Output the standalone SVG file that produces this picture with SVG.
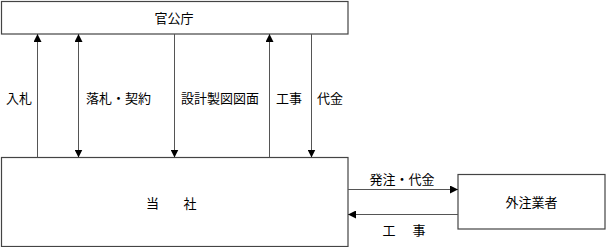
<svg xmlns="http://www.w3.org/2000/svg" width="606" height="247" viewBox="0 0 606 247">
<style>
.box{fill:#fff;stroke:#444;stroke-width:1.2}
.ln{stroke:#555;stroke-width:1;fill:none}
text{font-family:"Noto Sans CJK JP","Noto Sans",sans-serif;font-size:13px;fill:#000;dominant-baseline:central;text-anchor:middle}
</style>
<defs>
<marker id="ah" viewBox="0 0 8 8" refX="8" refY="4" markerWidth="8" markerHeight="8" markerUnits="userSpaceOnUse" orient="auto-start-reverse">
<path d="M0,0 L8,4 L0,8 Z" fill="#000"/>
</marker>
</defs>
<rect width="606" height="247" fill="#fff"/>
<g id="kankocho"><rect class="box" x="1.5" y="1.5" width="346.5" height="32.5"/><text x="174" y="17.5">官公庁</text></g>
<g id="tosha"><rect class="box" x="1.5" y="157.5" width="346.5" height="89"/><text x="152.5 171 190" y="202.5">当　社</text></g>
<g id="gaichu"><rect class="box" x="458" y="174.5" width="147" height="54.5"/><text x="531.5" y="201.5">外注業者</text></g>
<g id="connectors">
<line class="ln" x1="37.5" y1="157.5" x2="37.5" y2="34" marker-end="url(#ah)"/>
<line class="ln" x1="78.5" y1="34" x2="78.5" y2="157.5" marker-start="url(#ah)" marker-end="url(#ah)"/>
<line class="ln" x1="174.5" y1="34" x2="174.5" y2="157.5" marker-end="url(#ah)"/>
<line class="ln" x1="269.5" y1="157.5" x2="269.5" y2="34" marker-end="url(#ah)"/>
<line class="ln" x1="311.5" y1="34" x2="311.5" y2="157.5" marker-end="url(#ah)"/>
<line class="ln" x1="348" y1="189.5" x2="458" y2="189.5" marker-end="url(#ah)"/>
<line class="ln" x1="458" y1="214.5" x2="348" y2="214.5" marker-end="url(#ah)"/>
<text x="19" y="97">入札</text>
<text x="118.5" y="97">落札・契約</text>
<text x="220" y="97">設計製図図面</text>
<text x="289" y="97">工事</text>
<text x="330" y="97">代金</text>
<text x="402" y="178">発注・代金</text>
<text x="389 404 419" y="229">工　事</text>
</g>
</svg>
